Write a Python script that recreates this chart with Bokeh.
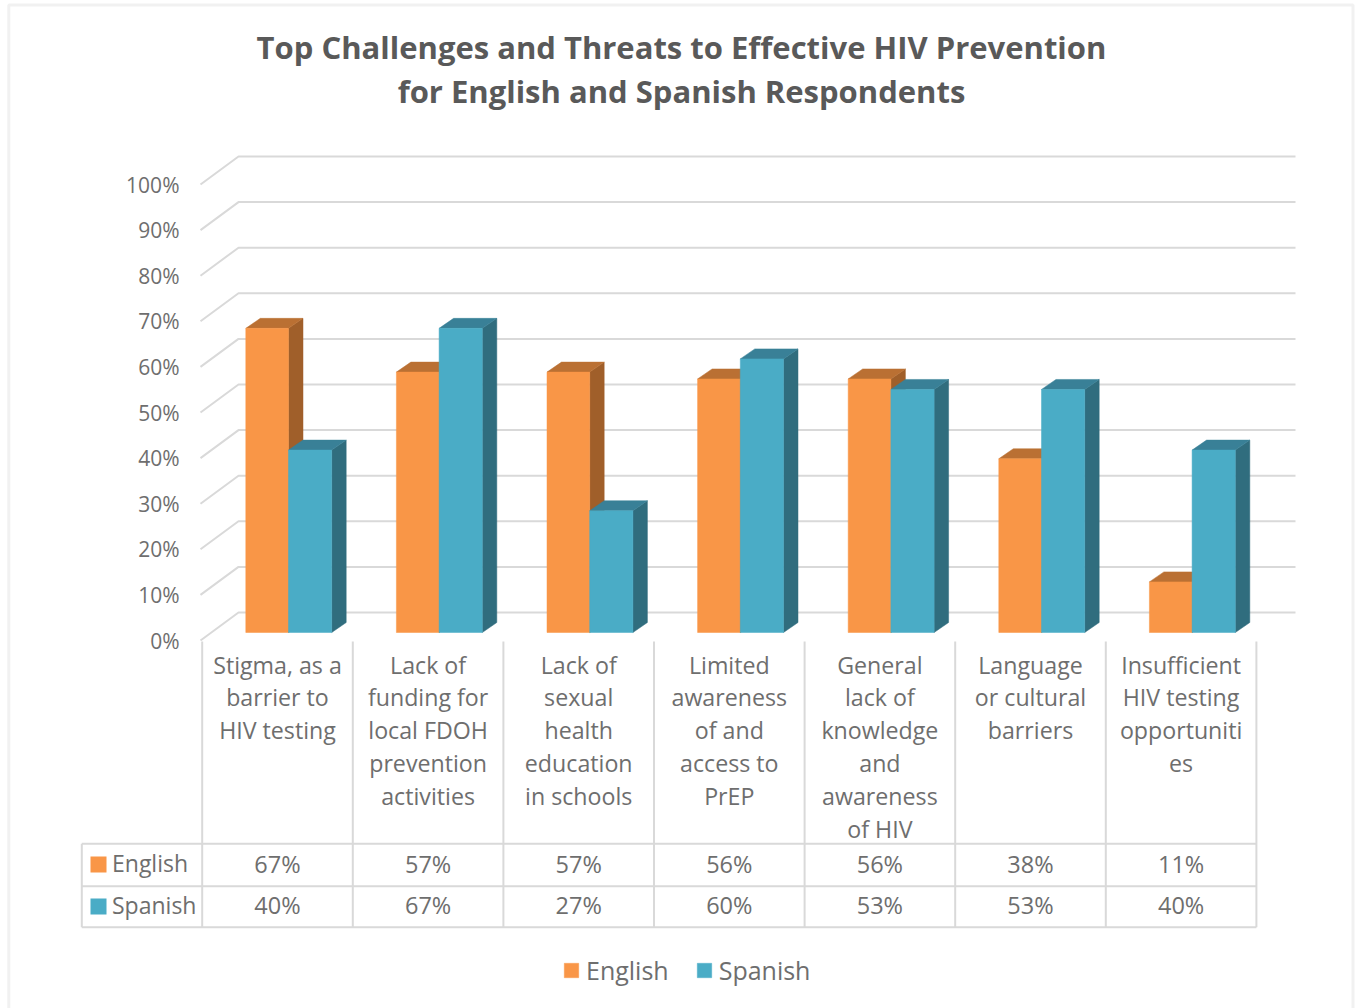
from bokeh.embed import file_html
from bokeh.resources import INLINE
from bokeh.plotting import figure
from bokeh.core.properties import value
from bokeh.models import (BoxAnnotation, FixedTicker, Label, Legend, LegendItem, LinearAxis, Range1d)

title_text = "Top Challenges and Threats to Effective HIV Prevention\nfor English and Spanish Respondents"
categories = [
    "Stigma, as a\nbarrier to\nHIV testing",
    "Lack of\nfunding for\nlocal FDOH\nprevention\nactivities",
    "Lack of\nsexual\nhealth\neducation\nin schools",
    "Limited\nawareness\nof and\naccess to\nPrEP",
    "General\nlack of\nknowledge\nand\nawareness\nof HIV",
    "Language\nor cultural\nbarriers",
    "Insufficient\nHIV testing\nopportuniti\nes",
]
english = [66.7, 57.1, 57.1, 55.6, 55.6, 38.1, 11.1]
spanish = [40.0, 66.7, 26.7, 60.0, 53.3, 53.3, 40.0]
y_ticks = [0, 10, 20, 30, 40, 50, 60, 70, 80, 90, 100]

FONT = "Open Sans"
TXT = "#6e6e6e"
GRID = "#d9d9d9"
W, H = 1357, 1008
LEFT = 200
X0, XS = 277.0, 150.6   # page px of category 0, px per category
Y0, YS = 640.0, 4.56    # page px of 0 %, px per percent


def xd(px):
    return (px - X0) / XS


def yd(px):
    return (Y0 - px) / YS


p = figure(width=W, height=H, output_backend="svg", toolbar_location=None,
           x_range=Range1d(xd(0), xd(W)), y_range=Range1d(yd(H), yd(0)),
           x_axis_location=None, y_axis_location=None,
           min_border_left=0, min_border_right=0, min_border_top=0, min_border_bottom=0,
           outline_line_color=None, background_fill_color="white", border_fill_color="white")
p.styles = {"position": "absolute", "left": "0px", "top": "0px"}
p.grid.visible = False

ax = LinearAxis(fixed_location=xd(LEFT))
ax.ticker = FixedTicker(ticks=y_ticks)
ax.major_label_overrides = {v: f"{v}%" for v in y_ticks}
ax.axis_line_color = None
ax.major_tick_line_color = None
ax.minor_tick_line_color = None
ax.major_tick_in = 0
ax.major_tick_out = 0
ax.minor_tick_in = 0
ax.minor_tick_out = 0
ax.major_label_standoff = 21
ax.major_label_text_font = FONT
ax.major_label_text_font_size = "21px"
ax.major_label_text_color = TXT
p.add_layout(ax, "left")

# page border
p.add_layout(BoxAnnotation(left=xd(8.3), right=xd(1352.5), top=yd(4.5), bottom=yd(1030),
                           fill_alpha=0, line_color="#d2d2d2", line_width=3))

# walls: grid lines (front-left point, back-left point, right end)
WALL_DX, WALL_DY = 38.0 / XS, 28.0 / YS
xs, ys = [], []
for t in y_ticks:
    xs.append([xd(LEFT), xd(LEFT) + WALL_DX, xd(1295)])
    ys.append([t, t + WALL_DY, t + WALL_DY])
p.multi_line(xs, ys, line_color=GRID, line_width=2)

# 3-D bars
BASE = yd(632)
LEFT_E, MID, RIGHT_S = xd(245.3), xd(288.0), xd(331.2)
BAR_DX, BAR_DY = 14.5 / XS, 10.0 / YS


def bars(vals, x_l, x_r, front, side, top):
    n = range(len(vals))
    l = [i + x_l for i in n]
    r = [i + x_r for i in n]
    t = [v + BASE for v in vals]
    p.patches([[a, a + BAR_DX, a + BAR_DX, a] for a in r],
              [[BASE, BASE + BAR_DY, b + BAR_DY, b] for b in t],
              fill_color=side, line_color=side, line_width=0.5)
    p.patches([[a, c, c + BAR_DX, a + BAR_DX] for a, c in zip(l, r)],
              [[b, b, b + BAR_DY, b + BAR_DY] for b in t],
              fill_color=top, line_color=top, line_width=0.5)
    return p.quad(left=l, right=r, bottom=BASE, top=t,
                  fill_color=front, line_color=front, line_width=0.5)


r_en = bars(english, LEFT_E, MID, "#f99647", "#a05f2a", "#ba7033")
r_es = bars(spanish, MID, RIGHT_S, "#4aacc6", "#306d7e", "#398097")

# data table lines
COL_L = 201.7
COL_W = 150.6
ROW = [843.3, 885.8, 926.8]
vx = [[xd(COL_L + COL_W * k)] * 2 for k in range(len(categories) + 1)]
vy = [[yd(641), yd(ROW[2])] for _ in range(len(categories) + 1)]
p.multi_line(vx, vy, line_color=GRID, line_width=2)
p.multi_line([[xd(81.3), xd(COL_L + COL_W * len(categories))] for _ in ROW],
             [[yd(r), yd(r)] for r in ROW], line_color=GRID, line_width=2)
p.line([xd(81.3), xd(81.3)], [yd(ROW[0]), yd(ROW[2])], line_color=GRID, line_width=2)

# table row-header swatches and names
table_rows = ["English", "Spanish"]
row_mid = [yd(862), yd(904)]
p.quad(left=xd(90), right=xd(106), top=[yd(856), yd(898)], bottom=[yd(872), yd(914)],
       fill_color=["#f99647", "#4aacc6"], line_color=None)
p.text(x=[xd(111.5)] * 2, y=row_mid, text=table_rows, text_font=value(FONT), text_font_size="23px",
       text_color=TXT, text_align="left", text_baseline="middle")

# category labels
idx = list(range(len(categories)))
p.text(x=idx, y=[yd(648)] * len(idx), text=categories, text_font=value(FONT), text_font_size="23.2px",
       text_color=TXT, text_align="center", text_baseline="top", text_line_height=1.03)

# table values
p.text(x=idx, y=[yd(863)] * len(idx), text=[f"{round(v)}%" for v in english], text_font=value(FONT),
       text_font_size="23.5px", text_color=TXT, text_align="center", text_baseline="middle")
p.text(x=idx, y=[yd(904)] * len(idx), text=[f"{round(v)}%" for v in spanish], text_font=value(FONT),
       text_font_size="23.5px", text_color=TXT, text_align="center", text_baseline="middle")

# title
p.add_layout(Label(x=xd(681), y=yd(25), text=title_text, text_font=FONT, text_font_style="bold",
                   text_font_size="31px", text_color="#595959", text_align="center",
                   text_baseline="top", text_line_height=1.07))

# legend
legend = Legend(items=[LegendItem(label="English", renderers=[r_en]),
                       LegendItem(label="Spanish", renderers=[r_es])],
                orientation="horizontal", location=(562, 21), margin=0, padding=0, spacing=26,
                glyph_width=18, glyph_height=18, label_standoff=6,
                label_text_font=FONT, label_text_font_size="25px", label_text_color=TXT,
                background_fill_alpha=0, border_line_color=None)
p.add_layout(legend, "center")

open("out.html", "w").write(file_html(p, INLINE))
